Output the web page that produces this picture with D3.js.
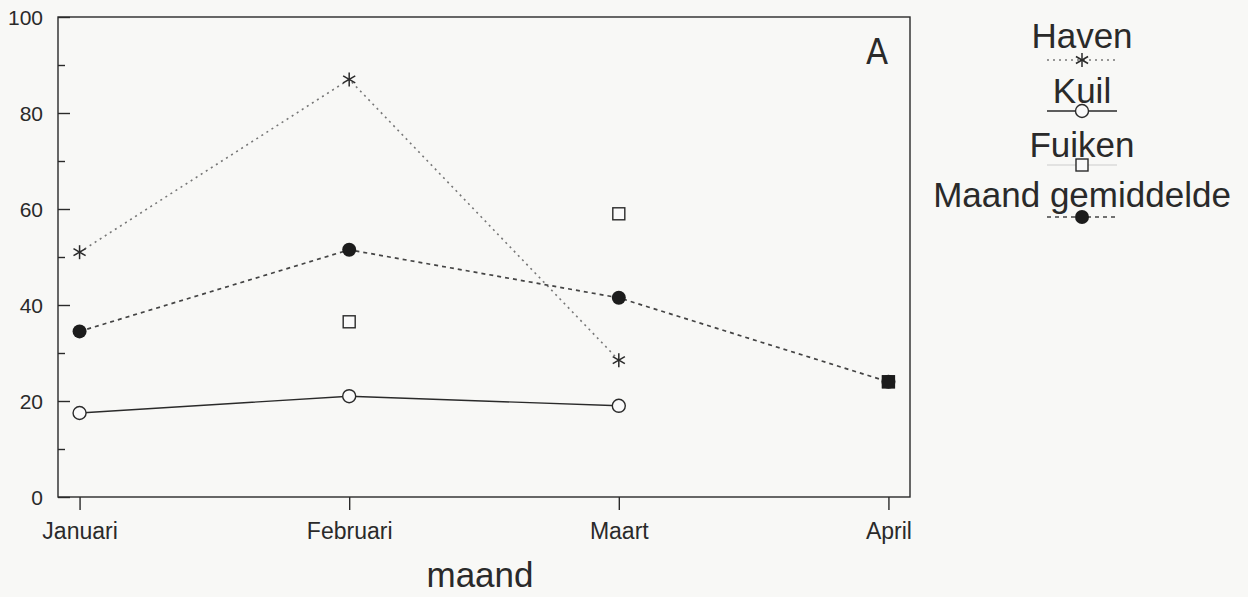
<!DOCTYPE html>
<html>
<head>
<meta charset="utf-8">
<script src="https://cdn.jsdelivr.net/npm/d3@7"></script>
<style>
  body { margin: 0; background: #f8f8f6; }
  svg { display: block; font-family: "Liberation Sans", Arial, sans-serif; }
</style>
</head>
<body>
<svg id="chart" width="1248" height="597"></svg>
<script>
// months on the x axis
const months = ["Januari", "Februari", "Maart", "April"];
const yTicks = [0, 20, 40, 60, 80, 100];
const yMinorTicks = [10, 30, 50, 70, 90];

// values per series (null = no catch that month)
const haven = [51, 87, 28.5, null];
const kuil = [17.5, 21, 19, null];
const fuiken = [null, 36.5, 59, 24];
const gemiddelde = [34.5, 51.5, 41.5, 24];

const seriesNames = ["Haven", "Kuil", "Fuiken", "Maand gemiddelde"];

const svg = d3.select("#chart");
const plotLeft = 58, plotRight = 910, plotTop = 17, plotBottom = 497;
const ink = "#2a2a2a";

const x = d3.scalePoint().domain(months).range([plotLeft, plotRight]).padding(0.08);
const y = d3.scaleLinear().domain([0, 100]).range([plotBottom, plotTop]);

// frame
svg.append("rect")
  .attr("x", plotLeft).attr("y", plotTop)
  .attr("width", plotRight - plotLeft).attr("height", plotBottom - plotTop)
  .attr("fill", "none").attr("stroke", ink).attr("stroke-width", 1.4);

// y axis: inward ticks
const yAxis = svg.append("g").attr("transform", `translate(${plotLeft},0)`);
yAxis.call(d3.axisRight(y).tickValues(yTicks).tickSize(12).tickFormat(""));
yAxis.append("g").call(d3.axisRight(y).tickValues(yMinorTicks).tickSize(7).tickFormat(""));
yAxis.selectAll(".domain").remove();
yAxis.selectAll("line").attr("stroke", ink).attr("stroke-width", 1.4);

svg.append("g").selectAll("text").data(yTicks).join("text")
  .attr("x", plotLeft - 15).attr("y", d => y(d) + 7.5)
  .attr("text-anchor", "end").attr("font-size", 21).attr("fill", ink)
  .text(d => d);

// x axis: outward ticks
const xAxis = svg.append("g").attr("transform", `translate(0,${plotBottom})`)
  .call(d3.axisBottom(x).tickSize(13).tickPadding(11));
xAxis.select(".domain").remove();
xAxis.selectAll("line").attr("stroke", ink).attr("stroke-width", 1.4);
xAxis.selectAll("text").attr("font-size", 23).attr("fill", ink)
  .attr("font-family", "Liberation Sans, Arial, sans-serif").attr("dy", "0.8em");

svg.append("text").attr("x", 480).attr("y", 587)
  .attr("text-anchor", "middle").attr("font-size", 35).attr("fill", ink)
  .text("maand");

svg.append("text").attr("x", 877).attr("y", 64)
  .attr("text-anchor", "middle").attr("font-size", 36).attr("fill", ink)
  .attr("font-family", "Liberation Sans Narrow, DejaVu Sans Condensed, sans-serif")
  .text("A");

// line styles per series
const styles = {
  "Haven": { values: haven, dash: "2,4", color: "#777", width: 1.6, line: true },
  "Kuil": { values: kuil, dash: null, color: ink, width: 1.4, line: true },
  "Fuiken": { values: fuiken, dash: null, color: "#ccc", width: 1, line: false },
  "Maand gemiddelde": { values: gemiddelde, dash: "4,4", color: "#444", width: 1.7, line: true }
};

function drawMarker(g, name, cx, cy) {
  if (name === "Haven") {
    const star = g.append("g").attr("transform", `translate(${cx},${cy})`)
      .attr("stroke", ink).attr("stroke-width", 1.5);
    [0, 60, 120].forEach(a => {
      star.append("line").attr("x1", 0).attr("y1", -7).attr("x2", 0).attr("y2", 7)
        .attr("transform", `rotate(${a})`);
    });
  } else if (name === "Kuil") {
    g.append("circle").attr("cx", cx).attr("cy", cy).attr("r", 6.5)
      .attr("fill", "#fafafa").attr("stroke", ink).attr("stroke-width", 1.4);
  } else if (name === "Fuiken") {
    g.append("rect").attr("x", cx - 6).attr("y", cy - 6).attr("width", 12).attr("height", 12)
      .attr("fill", "#fafafa").attr("stroke", ink).attr("stroke-width", 1.4);
  } else {
    g.append("circle").attr("cx", cx).attr("cy", cy).attr("r", 7)
      .attr("fill", "#1c1c1c");
  }
}

const plot = svg.append("g");
seriesNames.forEach(name => {
  const s = styles[name];
  const pts = months.map((m, i) => ({ m, v: s.values[i] })).filter(d => d.v !== null);
  if (s.line) {
    plot.append("path")
      .datum(pts)
      .attr("fill", "none").attr("stroke", s.color).attr("stroke-width", s.width)
      .attr("stroke-dasharray", s.dash)
      .attr("d", d3.line().x(d => x(d.m)).y(d => y(d.v)));
  }
});
seriesNames.forEach(name => {
  const s = styles[name];
  months.forEach((m, i) => {
    if (s.values[i] !== null) drawMarker(plot, name, x(m), y(s.values[i]));
  });
});
// April: fuiken and mean coincide, drawn as one filled square
plot.append("rect")
  .attr("x", x("April") - 6.5).attr("y", y(gemiddelde[3]) - 6.5)
  .attr("width", 13).attr("height", 13).attr("fill", "#1c1c1c");

// legend
const legendY = [48, 103, 157, 207];
const legend = svg.append("g");
seriesNames.forEach((name, i) => {
  const s = styles[name];
  const by = legendY[i];
  legend.append("text").attr("x", 1082).attr("y", by)
    .attr("text-anchor", "middle").attr("font-size", 35).attr("fill", ink)
    .text(name);
  const ly = by + (i === 3 ? 10 : i === 0 ? 12 : 8);
  legend.append("line")
    .attr("x1", 1047).attr("x2", 1117).attr("y1", ly).attr("y2", ly)
    .attr("stroke", s.color).attr("stroke-width", s.width)
    .attr("stroke-dasharray", s.dash);
  drawMarker(legend, name, 1082, ly);
});
</script>
</body>
</html>
